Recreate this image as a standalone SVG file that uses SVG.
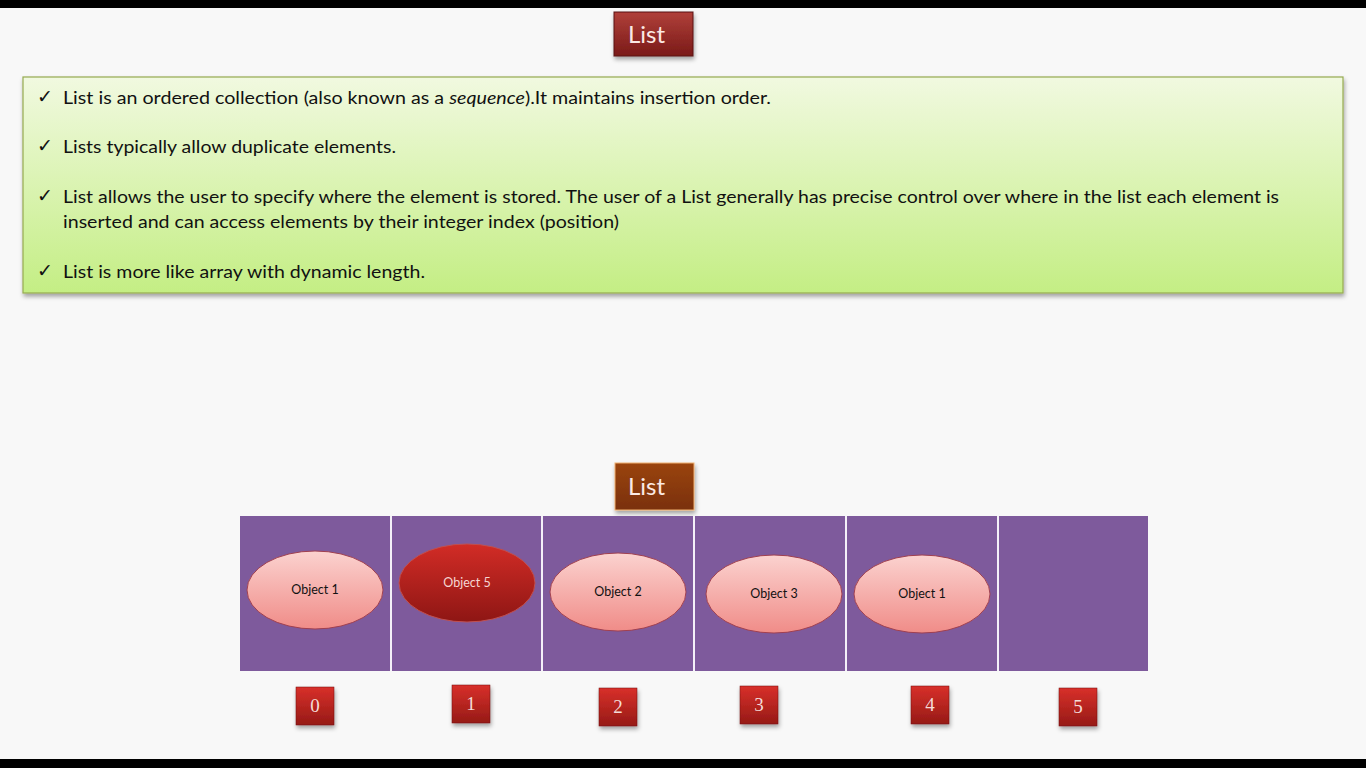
<svg xmlns="http://www.w3.org/2000/svg" width="1366" height="768" viewBox="0 0 1366 768">
<defs>
<linearGradient id="gRed" x1="0" y1="0" x2="0" y2="1"><stop offset="0" stop-color="#b0403a"/><stop offset="1" stop-color="#7a1a18"/></linearGradient>
<linearGradient id="gBrown" x1="0" y1="0" x2="0" y2="1"><stop offset="0" stop-color="#9a4410"/><stop offset="1" stop-color="#7a3008"/></linearGradient>
<linearGradient id="gGreen" x1="0" y1="0" x2="0" y2="1"><stop offset="0" stop-color="#f1f9e0"/><stop offset="1" stop-color="#c4ee84"/></linearGradient>
<linearGradient id="gPink" x1="0" y1="0" x2="0" y2="1"><stop offset="0" stop-color="#fbd2cf"/><stop offset="1" stop-color="#f08c88"/></linearGradient>
<linearGradient id="gDark" x1="0" y1="0" x2="0" y2="1"><stop offset="0" stop-color="#d22c26"/><stop offset="1" stop-color="#8e1614"/></linearGradient>
<linearGradient id="gIdx" x1="0" y1="0" x2="0" y2="1"><stop offset="0" stop-color="#d8302a"/><stop offset="1" stop-color="#961a16"/></linearGradient>
<filter id="sh" x="-20%" y="-20%" width="140%" height="150%"><feDropShadow dx="1" dy="3" stdDeviation="2" flood-color="#000" flood-opacity="0.35"/></filter>
</defs>
<style>
.body{font-family:Lato,"Liberation Sans",sans-serif;font-size:18px;fill:#111}
.chk{font-family:"DejaVu Sans",sans-serif;font-size:19px;fill:#111}
.ttl{font-family:Lato,"Liberation Sans",sans-serif;font-size:24px;fill:#fbe9e4}
.obj{font-family:Lato,"Liberation Sans",sans-serif;font-size:12.5px;fill:#111;text-anchor:middle}
.idx{font-family:"Liberation Serif",serif;font-size:19px;fill:#f4dcd8;text-anchor:middle}
.pe{fill:url(#gPink);stroke:#a04050;stroke-width:1}
.ib{fill:url(#gIdx);stroke:#701010;stroke-width:0.5;filter:url(#sh)}
</style>
<rect width="1366" height="768" fill="#f8f8f8"/>
<rect width="1366" height="8" fill="#000"/>
<rect y="759" width="1366" height="9" fill="#000"/>

<g id="title">
<rect x="614" y="12" width="79" height="44" fill="url(#gRed)" stroke="#5a1010" stroke-width="1" filter="url(#sh)"/>
<text class="ttl" x="628" y="43">List</text>
</g>

<g id="notes">
<rect x="23" y="77" width="1320" height="216" fill="url(#gGreen)" stroke="#96aa50" stroke-width="1.2" filter="url(#sh)"/>
<text class="chk" x="37" y="103">✓</text>
<text class="body" x="63" y="104" textLength="708" lengthAdjust="spacingAndGlyphs">List is an ordered collection (also known as a <tspan font-style="italic">sequence</tspan>).It maintains insertion order.</text>
<text class="chk" x="37" y="152">✓</text>
<text class="body" x="63" y="153" textLength="333" lengthAdjust="spacingAndGlyphs">Lists typically allow duplicate elements.</text>
<text class="chk" x="37" y="202">✓</text>
<text class="body" x="63" y="203" textLength="1216" lengthAdjust="spacingAndGlyphs">List allows the user to specify where the element is stored. The user of a List generally has precise control over where in the list each element is</text>
<text class="body" x="63" y="228" textLength="556" lengthAdjust="spacingAndGlyphs">inserted and can access elements by their integer index (position)</text>
<text class="chk" x="37" y="277">✓</text>
<text class="body" x="63" y="278" textLength="362" lengthAdjust="spacingAndGlyphs">List is more like array with dynamic length.</text>
</g>

<g id="list-label">
<rect x="615" y="463" width="79" height="47" fill="url(#gBrown)" stroke="#f0b070" stroke-width="1" filter="url(#sh)"/>
<text class="ttl" x="628" y="495">List</text>
</g>

<g id="array">
<rect x="240" y="516" width="908" height="155" fill="#7e5a9c"/>
<g stroke="#f4f0f8" stroke-width="2">
<line x1="391" y1="516" x2="391" y2="671"/>
<line x1="542" y1="516" x2="542" y2="671"/>
<line x1="694" y1="516" x2="694" y2="671"/>
<line x1="846" y1="516" x2="846" y2="671"/>
<line x1="998" y1="516" x2="998" y2="671"/>
</g>
</g>

<g id="obj0"><ellipse class="pe" cx="315" cy="590" rx="68" ry="39"/><text class="obj" x="315" y="594">Object 1</text></g>
<g id="obj1"><ellipse cx="467" cy="583" rx="68" ry="39" fill="url(#gDark)" stroke="#c05050" stroke-width="1"/><text class="obj" x="467" y="587" style="fill:#f6d6d2">Object 5</text></g>
<g id="obj2"><ellipse class="pe" cx="618" cy="592" rx="68" ry="39"/><text class="obj" x="618" y="596">Object 2</text></g>
<g id="obj3"><ellipse class="pe" cx="774" cy="594" rx="68" ry="39"/><text class="obj" x="774" y="598">Object 3</text></g>
<g id="obj4"><ellipse class="pe" cx="922" cy="594" rx="68" ry="39"/><text class="obj" x="922" y="598">Object 1</text></g>

<g id="idx0"><rect class="ib" x="296" y="687" width="38" height="38"/><text class="idx" x="315" y="712">0</text></g>
<g id="idx1"><rect class="ib" x="452" y="685" width="38" height="38"/><text class="idx" x="471" y="710">1</text></g>
<g id="idx2"><rect class="ib" x="599" y="688" width="38" height="38"/><text class="idx" x="618" y="713">2</text></g>
<g id="idx3"><rect class="ib" x="740" y="686" width="38" height="38"/><text class="idx" x="759" y="711">3</text></g>
<g id="idx4"><rect class="ib" x="911" y="686" width="38" height="38"/><text class="idx" x="930" y="711">4</text></g>
<g id="idx5"><rect class="ib" x="1059" y="688" width="38" height="38"/><text class="idx" x="1078" y="713">5</text></g>
</svg>
